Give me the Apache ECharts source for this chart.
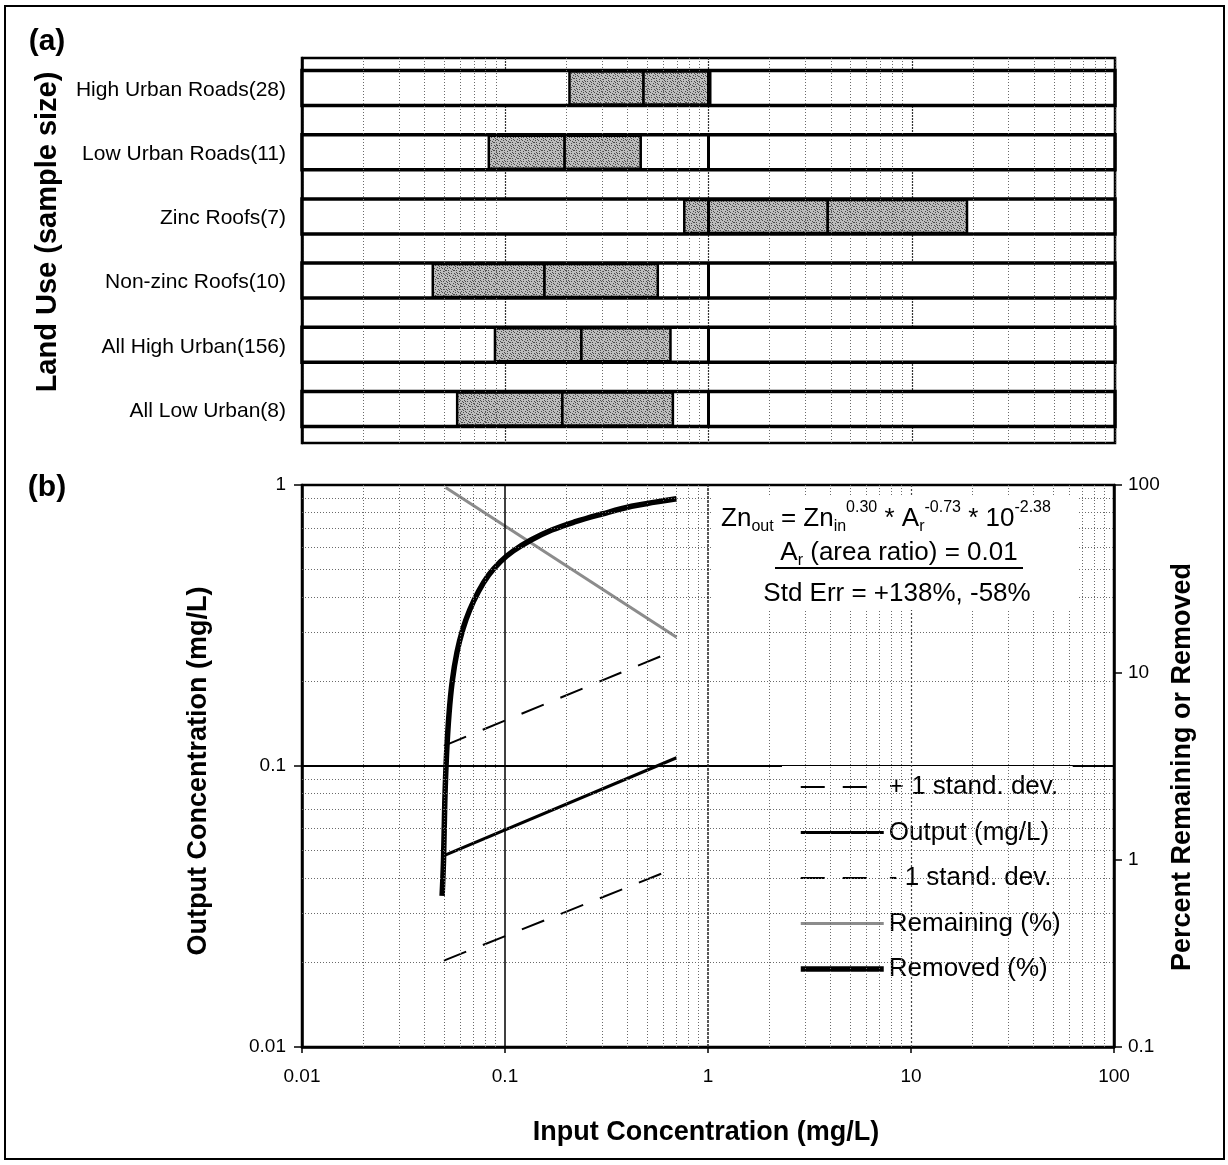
<!DOCTYPE html>
<html>
<head>
<meta charset="utf-8">
<title>Zinc removal</title>
<script src="https://cdn.jsdelivr.net/npm/echarts@6/dist/echarts.min.js"></script>
<style>
html, body { margin: 0; padding: 0; background: #fff; }
#chart { width: 1228px; height: 1165px; }
</style>
</head>
<body>
<div id="chart"></div>
<script>
// (a) land use boxes: 25th / 50th / 75th percentile concentration (mg/L)
var landUses = ['High Urban Roads(28)', 'Low Urban Roads(11)', 'Zinc Roofs(7)',
                'Non-zinc Roofs(10)', 'All High Urban(156)', 'All Low Urban(8)'];
var boxLow  = [0.207, 0.083, 0.76, 0.044, 0.089, 0.058];
var boxMid  = [0.479, 0.196, 3.86, 0.156, 0.237, 0.191];
var boxHigh = [1.02, 0.464, 18.7, 0.563, 0.65, 0.668];

// (b) output concentration (mg/L) vs input concentration (mg/L)
var plusSdX  = [0.05, 0.62];
var plusSdY  = [0.118, 0.25];
var outputX  = [0.05, 0.70];
var outputY  = [0.048, 0.107];
var minusSdX = [0.05, 0.62];
var minusSdY = [0.0203, 0.042];

// (b) percent remaining / removed (right axis)
var remainX  = [0.051, 0.70];
var remainY  = [97, 15.4];
var removedX = [0.049, 0.0498, 0.0505, 0.0515, 0.053, 0.055, 0.058, 0.062, 0.067, 0.074,
                0.083, 0.095, 0.11, 0.135, 0.17, 0.22, 0.30, 0.42, 0.55, 0.70];
var removedY = [0.64, 1.0, 2.0, 3.6, 6.0, 9.0, 12.8, 17, 21.5, 27,
                33, 39, 44.5, 51, 57.5, 63.5, 70, 77, 81, 84.5];

// tick labels
var xTicks     = ['0.01', '0.1', '1', '10', '100'];
var leftTicks  = ['0.01', '0.1', '1'];
var rightTicks = ['0.1', '1', '10', '100'];

var FONT = "'Liberation Sans', Arial, sans-serif";

function pairs(xs, ys) {
    var out = [];
    for (var i = 0; i < xs.length; i++) out.push([xs[i], ys[i]]);
    return out;
}

function tickLabel(list) {
    return function (v) {
        for (var i = 0; i < list.length; i++) {
            if (Math.abs(Math.log10(+list[i]) - Math.log10(v)) < 1e-6) return list[i];
        }
        return '';
    };
}

// 2..9 x each decade between lo and hi
function minorSteps(lo, hi) {
    var out = [];
    for (var d = lo; d < hi * 0.999; d *= 10) {
        for (var k = 2; k <= 9; k++) out.push(+(k * d).toPrecision(3));
    }
    return out;
}

// stippled grey fill for the boxes
var stipple = document.createElement('canvas');
stipple.width = 8;
stipple.height = 8;
(function () {
    var ctx = stipple.getContext('2d');
    ctx.fillStyle = '#bdbdbd';
    ctx.fillRect(0, 0, 8, 8);
    ctx.fillStyle = '#4a4a4a';
    var dots = [[0, 0], [3, 1], [6, 1], [1, 3], [5, 3], [2, 4], [7, 4], [4, 5], [0, 6], [6, 6], [3, 7], [1, 1], [5, 6], [7, 2]];
    dots.forEach(function (d) { ctx.fillRect(d[0], d[1], 1, 1); });
})();

function renderBox(params, api) {
    var i = api.value(3);
    var left = api.coord([0.01, i]);
    var right = api.coord([100, i]);
    var p1 = api.coord([api.value(0), i]);
    var p2 = api.coord([api.value(1), i]);
    var p3 = api.coord([api.value(2), i]);
    var one = api.coord([1, i]);
    var h = 35;
    var top = left[1] - h / 2 - 2;
    var boxStyle = { fill: { image: stipple, repeat: 'repeat' }, stroke: '#000', lineWidth: 2.5 };
    return {
        type: 'group',
        children: [
            { type: 'rect', shape: { x: left[0], y: top, width: right[0] - left[0], height: h },
              style: { fill: '#fff', stroke: '#000', lineWidth: 3.5 } },
            { type: 'rect', shape: { x: p1[0], y: top + 1, width: p2[0] - p1[0], height: h - 2 }, style: boxStyle },
            { type: 'rect', shape: { x: p2[0], y: top + 1, width: p3[0] - p2[0], height: h - 2 }, style: boxStyle },
            { type: 'line', shape: { x1: one[0], y1: top, x2: one[0], y2: top + h },
              style: { stroke: '#000', lineWidth: 3 } }
        ]
    };
}

var boxData = [];
for (var i = 0; i < landUses.length; i++) boxData.push([boxLow[i], boxMid[i], boxHigh[i], i]);

var dotted = { color: '#6a6a6a', width: 1, type: [1, 2] };
var majorDotted = { color: '#333', width: 1.2, type: [2, 1] };
var majorStyles = [
    { color: '#000', width: 1.5, type: 'solid' },   // 0.1
    { color: '#222', width: 1.5, type: [3, 1] },    // 1
    { color: '#444', width: 1.2, type: [2, 2] }     // 10
];

var xMinor = minorSteps(0.01, 100).map(function (v) { return { xAxis: v }; });
var yMinor = minorSteps(0.01, 1).map(function (v) { return { yAxis: v }; });
var xMajor = xTicks.slice(1, -1).map(function (t, i) { return { xAxis: +t, lineStyle: majorStyles[i] }; });

var chart = echarts.init(document.getElementById('chart'));
chart.setOption({
    animation: false,
    backgroundColor: '#fff',
    textStyle: { fontFamily: FONT, color: '#000' },
    grid: [
        { left: 302, right: 113, top: 58, height: 385, show: true, borderColor: '#000', borderWidth: 2.5 },
        { left: 302, right: 114, top: 485, height: 562, show: true, borderColor: '#000', borderWidth: 2.5 }
    ],
    xAxis: [
        { type: 'log', gridIndex: 0, logBase: 10, min: 0.01, max: 100, splitNumber: 4,
          axisLine: { lineStyle: { color: '#000', width: 2.5 } },
          axisTick: { length: 5, lineStyle: { color: '#000', width: 1.5 } },
          axisLabel: { show: false },
          splitLine: { show: true, lineStyle: majorDotted } },
        { type: 'log', gridIndex: 1, logBase: 10, min: 0.01, max: 100, splitNumber: 4,
          axisLine: { lineStyle: { color: '#000', width: 2.5 } },
          axisTick: { length: 6, lineStyle: { color: '#000', width: 1.5 } },
          axisLabel: { fontSize: 19, color: '#000', margin: 20, formatter: tickLabel(xTicks) },
          splitLine: { show: false } }
    ],
    yAxis: [
        { type: 'category', gridIndex: 0, data: landUses, inverse: true,
          axisLine: { lineStyle: { color: '#000', width: 2.5 } },
          axisTick: { length: 6, lineStyle: { color: '#000', width: 1.5 } },
          axisLabel: { fontSize: 21, color: '#000', margin: 16 } },
        { type: 'log', gridIndex: 1, logBase: 10, min: 0.01, max: 1, splitNumber: 2,
          axisLine: { lineStyle: { color: '#000', width: 2.5 } },
          axisTick: { length: 8, lineStyle: { color: '#000', width: 1.5 } },
          axisLabel: { fontSize: 19, color: '#000', margin: 16, formatter: tickLabel(leftTicks) },
          splitLine: { show: true, lineStyle: { color: '#000', width: 2 } } },
        { type: 'log', gridIndex: 1, logBase: 10, min: 0.1, max: 100, splitNumber: 3, position: 'right',
          axisLine: { show: true, lineStyle: { color: '#000', width: 2.5 } },
          axisTick: { show: true, length: 8, lineStyle: { color: '#000', width: 1.5 } },
          axisLabel: { fontSize: 19, color: '#000', margin: 14, formatter: tickLabel(rightTicks) },
          splitLine: { show: false } }
    ],
    legend: {
        data: ['+ 1 stand. dev.', 'Output (mg/L)', '- 1 stand. dev.', 'Remaining (%)', 'Removed (%)'],
        orient: 'vertical', left: 782, top: 766,
        padding: [8, 12, 8, 16],
        backgroundColor: '#fff',
        itemWidth: 83, itemHeight: 26, itemGap: 19.5,
        selectedMode: false,
        itemStyle: { opacity: 0, borderWidth: 0 },
        lineStyle: { width: 'inherit', type: 'inherit' },
        textStyle: { fontSize: 26, color: '#000', fontFamily: FONT }
    },
    series: [
        { name: 'gridA', type: 'line', xAxisIndex: 0, yAxisIndex: 0, data: [], silent: true,
          markLine: { silent: true, symbol: ['none', 'none'], label: { show: false },
                      lineStyle: dotted, data: xMinor } },
        { name: 'boxes', type: 'custom', xAxisIndex: 0, yAxisIndex: 0, z: 3,
          renderItem: renderBox, encode: { x: [0, 1, 2], y: 3 }, data: boxData },
        { name: 'gridB', type: 'line', xAxisIndex: 1, yAxisIndex: 1, data: [], silent: true,
          markLine: { silent: true, symbol: ['none', 'none'], label: { show: false },
                      lineStyle: dotted, data: xMinor.concat(yMinor).concat(xMajor) } },
        { name: '+ 1 stand. dev.', type: 'line', xAxisIndex: 1, yAxisIndex: 1, z: 3,
          symbol: 'none', data: pairs(plusSdX, plusSdY),
          lineStyle: { color: '#000', width: 2, type: [24, 18] }, itemStyle: { color: '#000' } },
        { name: 'Output (mg/L)', type: 'line', xAxisIndex: 1, yAxisIndex: 1, z: 3,
          symbol: 'none', data: pairs(outputX, outputY),
          lineStyle: { color: '#000', width: 3 }, itemStyle: { color: '#000' } },
        { name: '- 1 stand. dev.', type: 'line', xAxisIndex: 1, yAxisIndex: 1, z: 3,
          symbol: 'none', data: pairs(minusSdX, minusSdY),
          lineStyle: { color: '#000', width: 2, type: [24, 18] }, itemStyle: { color: '#000' } },
        { name: 'Remaining (%)', type: 'line', xAxisIndex: 1, yAxisIndex: 2, z: 3,
          symbol: 'none', data: pairs(remainX, remainY),
          lineStyle: { color: '#8c8c8c', width: 3 }, itemStyle: { color: '#8c8c8c' } },
        { name: 'Removed (%)', type: 'line', xAxisIndex: 1, yAxisIndex: 2, z: 4,
          symbol: 'none', smooth: 0.4, data: pairs(removedX, removedY),
          lineStyle: { color: '#000', width: 5.5 }, itemStyle: { color: '#000' } }
    ],
    graphic: [
        { type: 'rect', z: -1, shape: { x: 5, y: 6, width: 1219, height: 1153 },
          style: { fill: 'none', stroke: '#000', lineWidth: 2 } },
        { type: 'text', z: 10, x: 47, y: 42, style: { text: '(a)', font: 'bold 30px ' + FONT,
          textAlign: 'center', textVerticalAlign: 'middle', fill: '#000' } },
        { type: 'text', z: 10, x: 47, y: 488, style: { text: '(b)', font: 'bold 30px ' + FONT,
          textAlign: 'center', textVerticalAlign: 'middle', fill: '#000' } },
        { type: 'text', z: 10, x: 48, y: 232, rotation: Math.PI / 2,
          style: { text: 'Land Use (sample size)', font: 'bold 29px ' + FONT,
                   textAlign: 'center', textVerticalAlign: 'middle', fill: '#000' } },
        { type: 'text', z: 10, x: 199, y: 771, rotation: Math.PI / 2,
          style: { text: 'Output Concentration (mg/L)', font: 'bold 27px ' + FONT,
                   textAlign: 'center', textVerticalAlign: 'middle', fill: '#000' } },
        { type: 'text', z: 10, x: 1183, y: 767, rotation: Math.PI / 2,
          style: { text: 'Percent Remaining or Removed', font: 'bold 27px ' + FONT,
                   textAlign: 'center', textVerticalAlign: 'middle', fill: '#000' } },
        { type: 'text', z: 10, x: 706, y: 1133,
          style: { text: 'Input Concentration (mg/L)', font: 'bold 27px ' + FONT,
                   textAlign: 'center', textVerticalAlign: 'middle', fill: '#000' } },
        // equation box
        { type: 'rect', z: 9, shape: { x: 712, y: 497, width: 366, height: 113 },
          style: { fill: '#fff', stroke: 'none' } },
        { type: 'text', z: 10, x: 886, y: 519,
          style: {
              text: '{m|Zn}{sb|out}{m| = Zn}{sb|in}{sp|0.30}{m| * A}{sb|r}{sp|-0.73}{m| * 10}{sp|-2.38}',
              textAlign: 'center', textVerticalAlign: 'middle', fill: '#000',
              rich: {
                  m: { fontSize: 26, fontFamily: FONT, verticalAlign: 'bottom', padding: [0, 0, 6, 0] },
                  sb: { fontSize: 16, fontFamily: FONT, verticalAlign: 'bottom', padding: [0, 0, 3, 0] },
                  sp: { fontSize: 16, fontFamily: FONT, verticalAlign: 'bottom', padding: [0, 0, 22, 0] }
              }
          } },
        { type: 'text', z: 10, x: 899, y: 556,
          style: {
              text: '{m|A}{sb|r}{m| (area ratio) = 0.01}',
              textAlign: 'center', textVerticalAlign: 'middle', fill: '#000',
              rich: {
                  m: { fontSize: 26, fontFamily: FONT, verticalAlign: 'bottom', padding: [0, 0, 6, 0] },
                  sb: { fontSize: 16, fontFamily: FONT, verticalAlign: 'bottom', padding: [0, 0, 3, 0] }
              }
          } },
        { type: 'line', z: 10, shape: { x1: 775, y1: 568, x2: 1023, y2: 568 },
          style: { stroke: '#000', lineWidth: 2 } },
        { type: 'text', z: 10, x: 897, y: 594,
          style: { text: 'Std Err = +138%, -58%', font: '26px ' + FONT,
                   textAlign: 'center', textVerticalAlign: 'middle', fill: '#000' } }
    ]
});
</script>
</body>
</html>
